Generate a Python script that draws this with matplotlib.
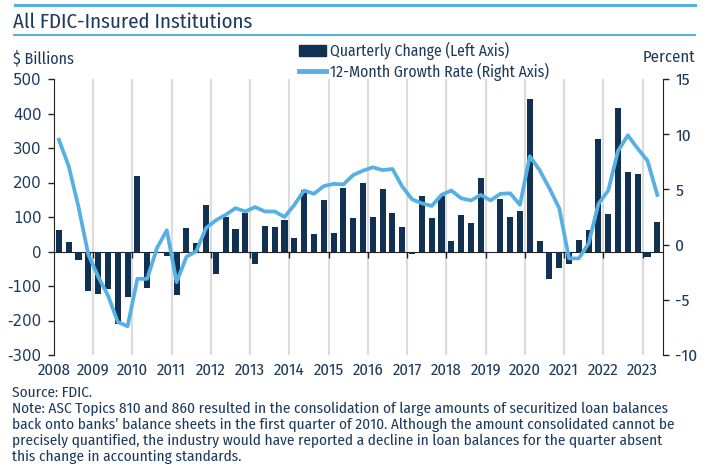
import matplotlib
matplotlib.use('Agg')
import matplotlib.pyplot as plt
import numpy as np
from matplotlib import font_manager
from matplotlib.lines import Line2D
from matplotlib.patches import Patch

# quarterly data, 2008Q1 .. 2023Q2
q_change = [61, 28, -24, -114, -124, -108, -210, -133,
            220, -106, -3, -14, -127, 68, 24, 134,
            -64, 101, 65, 112, -37, 74, 70, 91,
            38, 178, 51, 150, 53, 185, 96, 198,
            99, 182, 112, 72, -7, 161, 98, 161,
            31, 105, 83, 213, -5, 152, 100, 117,
            443, 31, -81, -47, -37, 32, 62, 326,
            110, 415, 229, 225, -15, 86]
growth = [9.5, 7.1, 3.4, -0.9, -2.9, -4.6, -7.0, -7.4,
          -3.1, -3.1, -0.3, 1.3, -3.4, -1.1, -0.6, 1.5,
          2.2, 2.7, 3.3, 3.0, 3.4, 3.0, 3.0, 2.5,
          3.6, 4.9, 4.6, 5.3, 5.5, 5.45, 6.3, 6.7,
          7.0, 6.75, 6.85, 5.25, 4.1, 3.74, 3.5, 4.5,
          4.9, 4.2, 4.0, 4.5, 4.0, 4.6, 4.65, 3.6,
          8.0, 6.75, 5.1, 3.3, -1.25, -1.25, 0.1, 3.7,
          4.9, 8.5, 9.9, 8.7, 7.6, 4.5]
years = list(range(2008, 2024))
left_ticks = [-300, -200, -100, 0, 100, 200, 300, 400, 500]
right_ticks = [-10, -5, 0, 5, 10, 15]

NAVY = '#113152'
LIGHT = '#56b0e4'
TEXT = '#1d3a5c'

names = {f.name for f in font_manager.fontManager.ttflist}
main_font = 'Fira Sans Condensed' if 'Fira Sans Condensed' in names else 'Roboto'
plt.rcParams['font.family'] = [main_font, 'DejaVu Sans']

W, H = 711, 466
fig = plt.figure(figsize=(W / 100, H / 100), dpi=100)
ax = fig.add_axes([54 / W, 1 - 355 / H, (663 - 54) / W, 276 / H])
ax2 = ax.twinx()

x = 2008 + (np.arange(len(q_change)) + 0.5) / 4
for yr in years[1:]:
    ax.axvline(yr, color='#dcdcdc', lw=1.6, zorder=1)
ax.bar(x, q_change, width=0.155, color=NAVY, zorder=3)
ax2.plot(x, growth, color=LIGHT, lw=2.7, zorder=4)

ax.set_xlim(2008, 2023.52)
ax.set_ylim(-300, 500)
ax2.set_ylim(-10, 15)

for a in (ax, ax2):
    a.spines['top'].set_visible(False)
ax.spines['right'].set_visible(False)
ax2.spines['left'].set_visible(False)
ax2.spines['bottom'].set_visible(False)
ax.spines['bottom'].set_position(('data', 0))
for s in ['left', 'bottom']:
    ax.spines[s].set_color('#222222')
ax2.spines['right'].set_color('#222222')

ax.set_xticks(years[1:])
ax.tick_params(axis='x', direction='out', length=4, width=1, color='#222222', labelbottom=False)
sec = ax.secondary_xaxis(0)
sec.set_xticks(years, labels=[str(y) for y in years])
sec.spines['bottom'].set_visible(False)
sec.tick_params(length=0, pad=5, labelsize=12, labelcolor=TEXT)

ax.set_yticks(left_ticks, labels=[str(v) for v in left_ticks])
ax.tick_params(axis='y', direction='out', length=4, width=1, color='#222222', pad=5,
               labelsize=10.8, labelcolor=TEXT)
for lab in ax.get_yticklabels():
    lab.set_family('DejaVu Sans')
ax2.set_yticks(right_ticks, labels=[str(v) for v in right_ticks])
ax2.tick_params(axis='y', direction='out', length=4, width=1, color='#222222', pad=5,
                labelsize=12.5, labelcolor=TEXT)

handles = [Patch(color=NAVY), Line2D([], [], color=LIGHT, lw=3.5)]
fig.legend(handles, ['Quarterly Change (Left Axis)', '12-Month Growth Rate (Right Axis)'],
           loc='upper left', bbox_to_anchor=(299 / W, 1 - 42 / H), frameon=False,
           borderpad=0, borderaxespad=0, handlelength=1.7, handleheight=0.75,
           handletextpad=0.25, labelspacing=0.18, fontsize=11.3, labelcolor=TEXT)

fig.add_artist(Line2D([15 / W, 695 / W], [1 - 5 / H] * 2, color=LIGHT, lw=2.2))
fig.add_artist(Line2D([14 / W, 695 / W], [1 - 35 / H] * 2, color=LIGHT, lw=1.5))
fig.text(13 / W, 1 - 28.3 / H, 'All FDIC-Insured Institutions', va='baseline',
         fontsize=15, color=TEXT)
fig.text(13 / W, 1 - 63 / H, '$ Billions', va='baseline', fontsize=11.5, color=TEXT)
fig.text(695 / W, 1 - 62 / H, 'Percent', va='baseline', ha='right', fontsize=12, color=TEXT)

footer = ["Source: FDIC.",
          "Note: ASC Topics 810 and 860 resulted in the consolidation of large amounts of securitized loan balances",
          "back onto banks\u2019 balance sheets in the first quarter of 2010. Although the amount consolidated cannot be",
          "precisely quantified, the industry would have reported a decline in loan balances for the quarter absent",
          "this change in accounting standards."]
for i, line in enumerate(footer):
    fig.text(12 / W, 1 - (397 + 16 * i) / H, line, va='baseline', fontsize=11, color=TEXT)

fig.savefig('out.png', dpi=100)
